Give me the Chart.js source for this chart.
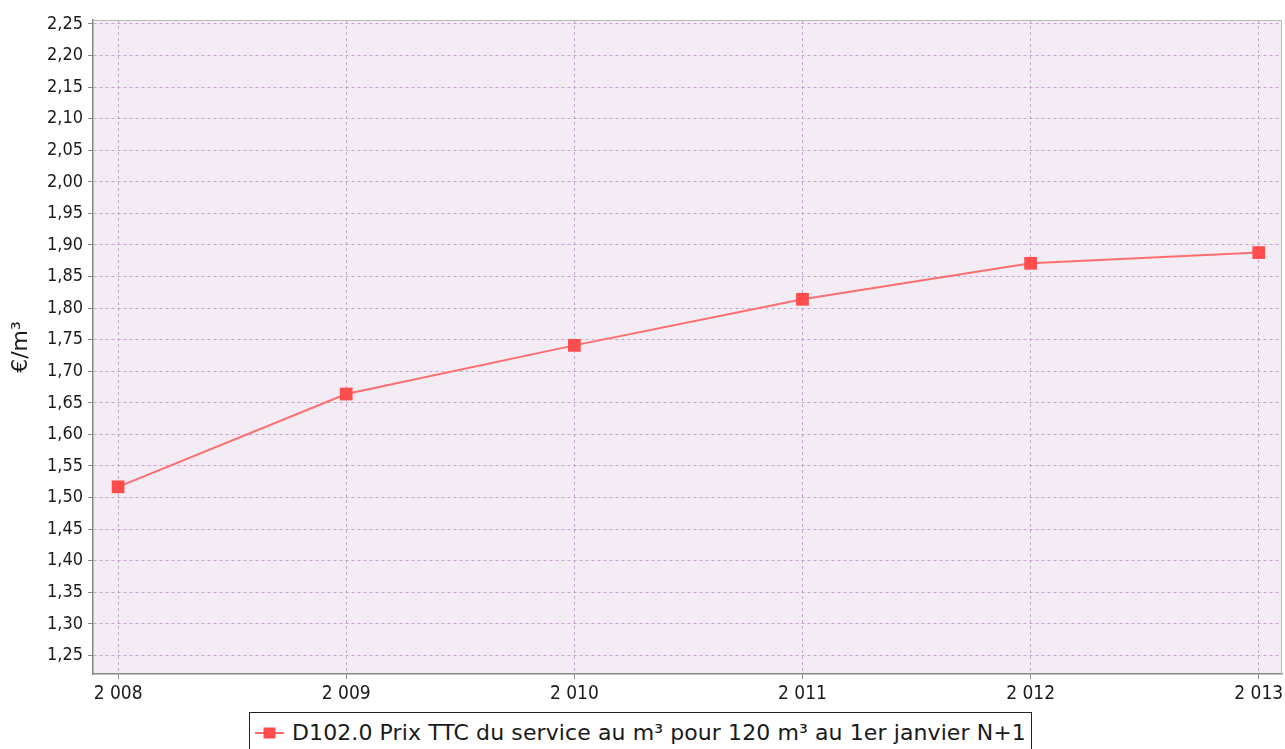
<!DOCTYPE html>
<html>
<head>
<meta charset="utf-8">
<script src="https://cdn.jsdelivr.net/npm/chart.js@4.4.1/dist/chart.umd.min.js"></script>
<style>
  html, body { margin: 0; padding: 0; background: #ffffff; overflow: hidden; }
  #wrap { position: relative; width: 1285px; height: 749px; }
  #legend {
    position: absolute; left: 249px; top: 712px; width: 783px; height: 60px;
    border: 1.5px solid #222; background: #fff; box-sizing: border-box;
    font-family: "DejaVu Sans", sans-serif; font-size: 22px; letter-spacing: 0.1px; color: #1a1a1a;
  }
  #legend .item { position: absolute; left: 5px; top: 7px; white-space: nowrap; display: flex; align-items: center; }
  #legend svg { margin-right: 8px; }
</style>
</head>
<body>
<div id="wrap">
  <canvas id="c" width="1285" height="749"></canvas>
  <div id="legend"><div class="item"><svg width="29" height="14" viewBox="0 0 29 14"><line x1="0" y1="7" x2="29" y2="7" stroke="#ff6b6b" stroke-width="2"/><rect x="8.5" y="1.5" width="12" height="11" fill="#ff4c4c"/></svg><span id="legtext"></span></div></div>
</div>
<script>
const years = [2008, 2009, 2010, 2011, 2012, 2013];
const prices = [1.517, 1.664, 1.741, 1.814, 1.871, 1.888];
const yTickValues = [1.25, 1.30, 1.35, 1.40, 1.45, 1.50, 1.55, 1.60, 1.65, 1.70, 1.75, 1.80, 1.85, 1.90, 1.95, 2.00, 2.05, 2.10, 2.15, 2.20, 2.25];
const seriesLabel = "D102.0 Prix TTC du service au m³ pour 120 m³ au 1er janvier N+1";
const yTitle = "€/m³";

document.getElementById('legtext').textContent = seriesLabel;

const gridColor = '#c9a3cf';
const condensed = '"DejaVu Sans Condensed", "DejaVu Sans", sans-serif';
const noPad = () => ({ left: 0, top: 0, right: 0, bottom: 0 });

const bgPlugin = {
  id: 'plotBg',
  beforeDraw(chart) {
    const a = chart.chartArea, ctx = chart.ctx;
    ctx.save();
    ctx.fillStyle = '#f3ecf4';
    ctx.fillRect(a.left, a.top, a.right - a.left, a.bottom - a.top);
    ctx.restore();
  },
  afterDraw(chart) {
    const a = chart.chartArea, ctx = chart.ctx;
    ctx.save();
    ctx.strokeStyle = '#b9b9b9';
    ctx.lineWidth = 1;
    ctx.beginPath();
    ctx.moveTo(a.left, a.top + 0.5);
    ctx.lineTo(a.right - 0.5, a.top + 0.5);
    ctx.lineTo(a.right - 0.5, a.bottom);
    ctx.stroke();
    ctx.restore();
  }
};

new Chart(document.getElementById('c'), {
  type: 'line',
  plugins: [bgPlugin],
  data: {
    datasets: [{
      label: seriesLabel,
      data: years.map((y, i) => ({ x: y, y: prices[i] })),
      borderColor: '#ff6e6e',
      borderWidth: 2,
      backgroundColor: '#ff4c4c',
      pointStyle: 'rect',
      pointRadius: 9,
      pointBorderWidth: 0,
      pointBackgroundColor: '#ff4c4c',
      tension: 0,
      clip: false
    }]
  },
  options: {
    responsive: false,
    animation: false,
    layout: { autoPadding: false, padding: { top: 20, right: 3, left: 0, bottom: 0 } },
    plugins: { legend: { display: false }, tooltip: { enabled: false } },
    scales: {
      x: {
        type: 'linear',
        min: 2007.89,
        max: 2013.102,
        afterBuildTicks: s => { s.ticks = years.map(v => ({ value: v })); },
        afterFit: s => { s.height = 75; s.paddingLeft = 0; s.paddingRight = 0; s.getPadding = noPad; },
        ticks: {
          font: { family: condensed, size: 19 },
          color: '#1a1a1a',
          padding: 4,
          callback: v => String(v).replace(/^(\d)(\d{3})$/, '$1 $2')
        },
        grid: { color: gridColor, lineWidth: 1, tickLength: 5, tickColor: '#888', tickBorderDash: [] },
        border: { display: true, color: '#888', width: 1.5, dash: [3, 3] }
      },
      y: {
        min: 1.2206,
        max: 2.2563,
        afterBuildTicks: s => { s.ticks = yTickValues.map(v => ({ value: v })); },
        afterFit: s => { s.width = 93; s.paddingTop = 0; s.paddingBottom = 0; s.getPadding = noPad; },
        ticks: {
          font: { family: condensed, size: 18 },
          color: '#1a1a1a',
          padding: 5,
          callback: v => v.toFixed(2).replace('.', ',')
        },
        title: {
          display: true, text: yTitle, color: '#1a1a1a',
          font: { family: '"DejaVu Sans", sans-serif', size: 22 },
          padding: { top: 8, bottom: 0 }
        },
        grid: { color: gridColor, lineWidth: 1, tickLength: 5, tickColor: '#888', tickBorderDash: [] },
        border: { display: true, color: '#888', width: 1.5, dash: [3, 3] }
      }
    }
  }
});
</script>
</body>
</html>
